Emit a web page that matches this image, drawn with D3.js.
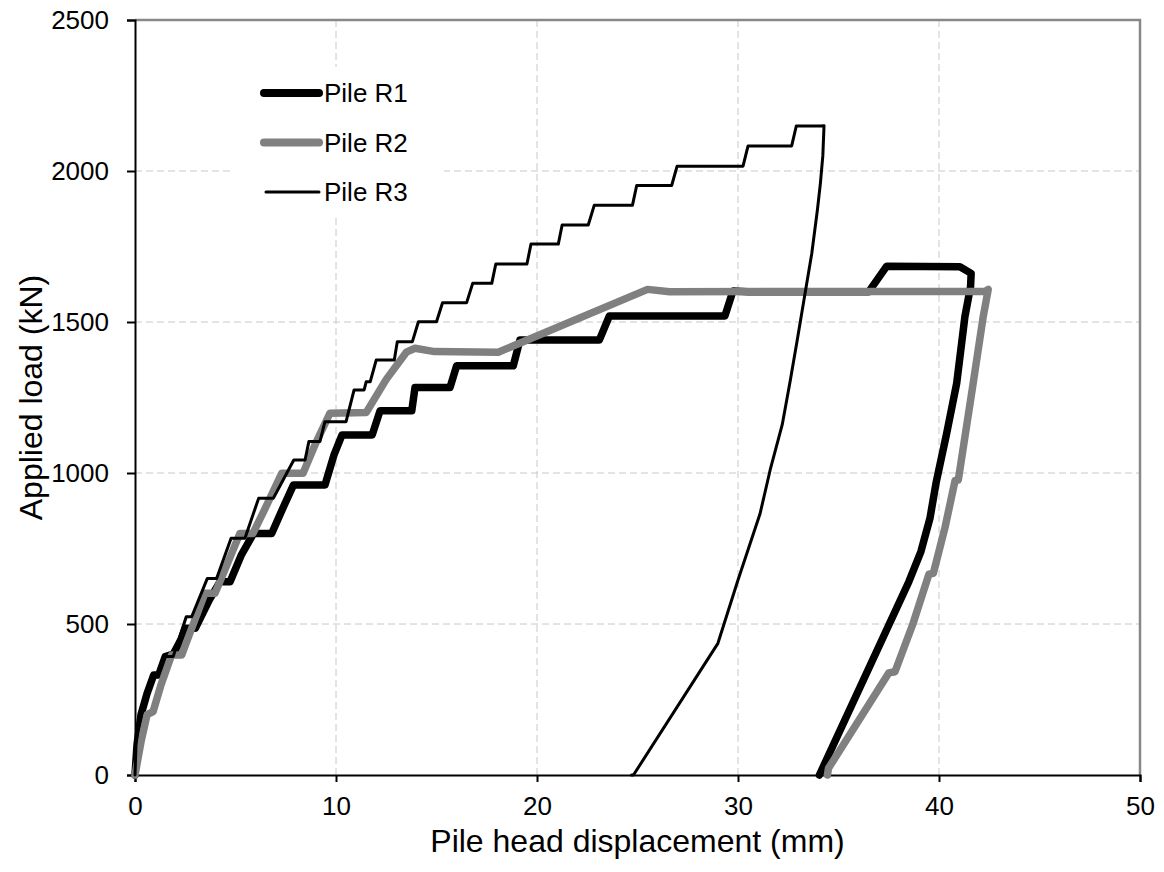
<!DOCTYPE html>
<html>
<head>
<meta charset="utf-8">
<script src="https://cdn.jsdelivr.net/npm/d3@7"></script>
<style>
    body { margin: 0; background: #fff; }
    svg { font-family: "Liberation Sans", Arial, sans-serif; }
    .grid line { stroke: #c8c8c8; stroke-width: 1; stroke-dasharray: 7,4; }
    .axis path, .axis line { stroke: #000; stroke-width: 2; }
    .axis text { font-size: 26px; fill: #000; }
    .frame { stroke: #888; stroke-width: 2.5; fill: none; }
    .title { font-size: 32px; fill: #000; }
    .legend text { font-size: 26px; fill: #000; }
</style>
</head>
<body>
<svg id="chart"></svg>
<script>
// displacement (mm), load (kN)
const seriesNames = ['Pile R1', 'Pile R2', 'Pile R3'];

const pileR1 = [
    [0, 0], [0.1, 100], [0.3, 200], [0.6, 270], [0.93, 331], [1.18, 331], [1.5, 392], [1.9, 400],
    [2.3, 450], [2.5, 486], [3.0, 486], [3.7, 580], [4.23, 640], [4.73, 640], [5.3, 730], [5.9, 800],
    [6.8, 800], [7.4, 890], [7.88, 960], [9.45, 960], [9.9, 1060], [10.3, 1126], [11.8, 1126],
    [12.19, 1206], [13.77, 1206], [13.93, 1283], [15.67, 1283], [16.0, 1355], [18.82, 1355],
    [19.15, 1440], [23.1, 1440], [23.6, 1520], [29.35, 1520], [29.75, 1603], [30.5, 1600],
    [36.5, 1600], [37.4, 1685], [41.04, 1683], [41.6, 1661], [41.57, 1617], [41.29, 1518],
    [40.88, 1297], [40.38, 1131], [39.85, 966], [39.55, 850], [39.1, 740], [38.5, 640],
    [34.05, 0]
];

const pileR2 = [
    [0, 0], [0.3, 110], [0.6, 200], [0.9, 210], [1.3, 300], [1.82, 397], [2.32, 397], [2.9, 500],
    [3.48, 602], [3.98, 602], [4.6, 700], [5.22, 800], [5.87, 800], [6.6, 900], [7.3, 999],
    [8.36, 999], [9.0, 1100], [9.7, 1198], [11.5, 1200], [12.5, 1310], [13.5, 1400], [13.93, 1413],
    [14.9, 1402], [18.07, 1400], [25.5, 1608], [26.6, 1600], [42.3, 1602], [42.45, 1608],
    [42.2, 1518], [41.7, 1297], [40.96, 977], [40.8, 975], [40.3, 820], [39.72, 668], [39.5, 665],
    [38.7, 500], [37.81, 342], [37.5, 338], [34.5, 22], [34.45, 0]
];

const pileR3 = [
    [0, 0], [0.05, 100], [0.15, 150], [0.4, 220], [0.7, 280], [1.0, 331], [1.1, 331], [1.49, 392],
    [1.9, 392], [2.55, 524], [2.82, 524], [3.6, 651], [4.06, 651], [4.78, 784], [5.47, 784],
    [6.15, 916], [6.88, 916], [7.9, 1043], [8.46, 1043], [8.65, 1104], [9.2, 1104], [9.45, 1170],
    [10.5, 1170], [10.9, 1275], [11.4, 1275], [11.5, 1302], [11.7, 1302], [12.0, 1374], [12.9, 1374],
    [13.05, 1435], [13.8, 1435], [14.1, 1501], [15.0, 1501], [15.3, 1564], [16.5, 1564],
    [16.8, 1628], [17.75, 1628], [17.95, 1692], [19.5, 1692], [19.7, 1758], [21.06, 1758],
    [21.25, 1821], [22.55, 1821], [22.85, 1887], [24.75, 1887], [24.96, 1952], [26.7, 1952],
    [26.97, 2016], [30.25, 2016], [30.5, 2083], [32.67, 2083], [32.9, 2149], [34.1, 2149],
    [34.28, 2150], [34.22, 2050], [34.1, 1960], [33.95, 1871], [33.67, 1727], [33.3, 1580],
    [32.92, 1430], [32.59, 1302], [32.2, 1160], [31.6, 1010], [31.1, 866], [30.0, 646],
    [29.0, 436], [24.8, 0], [24.7, 0]
];

const xTicks = [0, 10, 20, 30, 40, 50];
const yTicks = [0, 500, 1000, 1500, 2000, 2500];

const seriesStyle = [
    {color: '#000', width: 7.5},
    {color: '#808080', width: 7.5},
    {color: '#000', width: 3}
];

const width = 1164, height = 872;
const margin = {top: 20, right: 24, bottom: 97, left: 135};
const innerW = width - margin.left - margin.right;
const innerH = height - margin.top - margin.bottom;

const svg = d3.select('#chart')
    .attr('width', width)
    .attr('height', height);

const chart = svg.append('g')
    .attr('transform', `translate(${margin.left},${margin.top})`);

const xScale = d3.scaleLinear().domain([0, 50]).range([0, innerW]);
const yScale = d3.scaleLinear().domain([0, 2500]).range([innerH, 0]);

// gridlines
chart.append('g').attr('class', 'grid')
    .selectAll('line')
    .data(xTicks.slice(1, -1))
    .join('line')
    .attr('x1', d => xScale(d)).attr('x2', d => xScale(d))
    .attr('y1', 0).attr('y2', innerH);

chart.append('g').attr('class', 'grid')
    .selectAll('line')
    .data(yTicks.slice(1, -1))
    .join('line')
    .attr('y1', d => yScale(d)).attr('y2', d => yScale(d))
    .attr('x1', 0).attr('x2', innerW);

// top and right frame
chart.append('path')
    .attr('class', 'frame')
    .attr('d', `M0,0H${innerW}V${innerH}`);

// legend background box hides the grid behind it
const legendBox = {x: 234 - margin.left, y: 67 - margin.top, w: 210, h: 150};
chart.append('rect')
    .attr('x', legendBox.x).attr('y', legendBox.y)
    .attr('width', legendBox.w).attr('height', legendBox.h)
    .attr('fill', '#fff');

// axes
const xAxis = d3.axisBottom(xScale).tickValues(xTicks).tickFormat(d3.format('d'))
    .tickSizeOuter(0).tickSize(7).tickPadding(15);
const yAxis = d3.axisLeft(yScale).tickValues(yTicks).tickFormat(d3.format('d'))
    .tickSizeOuter(0).tickSize(8).tickPadding(18);

chart.append('g')
    .attr('class', 'axis x-axis')
    .attr('transform', `translate(0,${innerH})`)
    .call(xAxis);

chart.append('g')
    .attr('class', 'axis y-axis')
    .call(yAxis);

// series lines
const line = d3.line()
    .x(d => xScale(d[0]))
    .y(d => yScale(d[1]));

const allSeries = [pileR1, pileR2, pileR3];

chart.selectAll('.series')
    .data(allSeries)
    .join('path')
    .attr('class', 'series')
    .attr('d', line)
    .attr('fill', 'none')
    .attr('stroke', (d, i) => seriesStyle[i].color)
    .attr('stroke-width', (d, i) => seriesStyle[i].width)
    .attr('stroke-linejoin', 'round')
    .attr('stroke-linecap', 'round');

// legend
const legend = chart.append('g')
    .attr('class', 'legend')
    .attr('transform', `translate(${264 - margin.left},${93 - margin.top})`);

const legendItem = legend.selectAll('g')
    .data(seriesNames)
    .join('g')
    .attr('transform', (d, i) => `translate(0,${i * 49.5})`);

legendItem.append('line')
    .attr('x1', (d, i) => i === 2 ? 2 : 0)
    .attr('x2', 55)
    .attr('stroke', (d, i) => seriesStyle[i].color)
    .attr('stroke-width', (d, i) => i === 2 ? 3 : 8)
    .attr('stroke-linecap', 'round');

legendItem.append('text')
    .attr('x', 60)
    .attr('dy', '0.35em')
    .text(d => d);

// axis titles
svg.append('text')
    .attr('class', 'title')
    .attr('x', margin.left + innerW / 2)
    .attr('y', 852)
    .attr('text-anchor', 'middle')
    .text('Pile head displacement (mm)');

svg.append('text')
    .attr('class', 'title')
    .attr('transform', `translate(42,${margin.top + innerH / 2}) rotate(-90)`)
    .attr('text-anchor', 'middle')
    .text('Applied load (kN)');
</script>
</body>
</html>
